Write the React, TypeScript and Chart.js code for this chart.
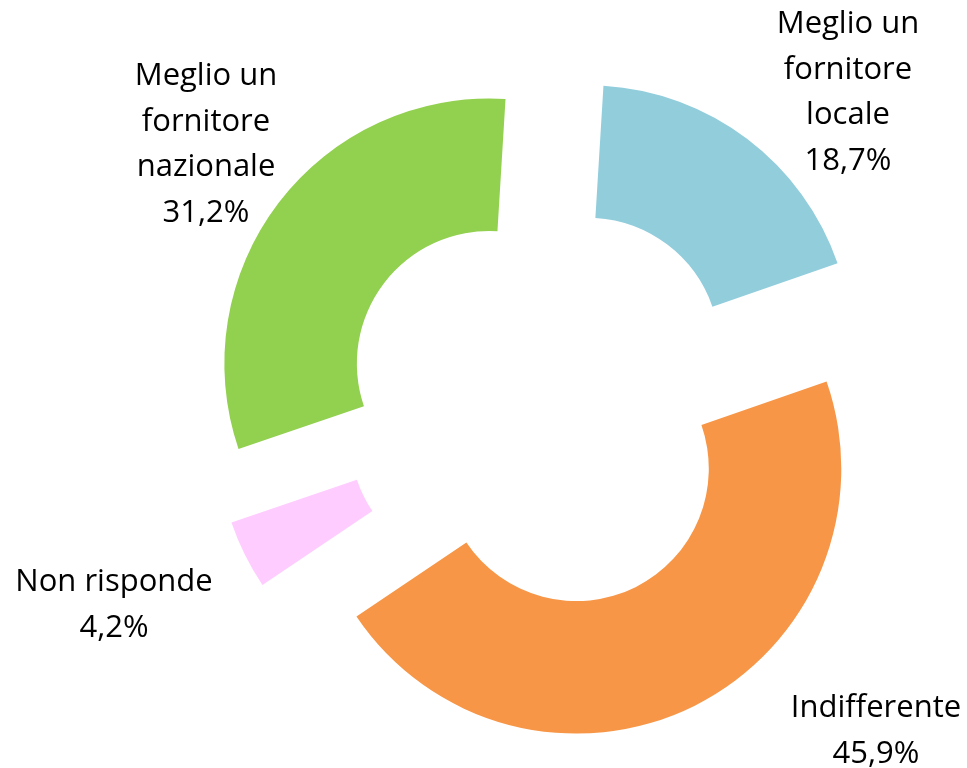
import React, { useEffect, useRef } from "react";
import { Chart, registerables } from "chart.js";

Chart.register(...registerables);

// ---- data ----
const categories: string[][] = [
  ["Meglio un", "fornitore", "locale"],
  ["Indifferente"],
  ["Non risponde"],
  ["Meglio un", "fornitore", "nazionale"],
];
const values: number[] = [18.7, 45.9, 4.2, 31.2];
const colors: string[] = ["#92CDDC", "#F79646", "#FFCCFF", "#92D050"];

// ---- layout constants (not data) ----
const EXPLODE = 70; // px each slice is pulled out along its mid-angle
const OUTER_RADIUS = 265;
const FONT = "31px 'Open Sans', Lato, sans-serif";
const LINE_HEIGHT = 45.7;
const CAP_HEIGHT = 21;
// label block centres, relative to the doughnut centre
const labelAnchors: [number, number][] = [
  [303, -315],
  [331, 323.5],
  [-431, 197.5],
  [-339, -263],
];

const fmt = (v: number) => v.toFixed(1).replace(".", ",") + "%";

const explodePlugin = {
  id: "explode",
  beforeDatasetDraw(chart: any, args: any) {
    const ctx = chart.ctx;
    args.meta.data.forEach((arc: any) => {
      const { startAngle, endAngle } = arc.getProps(["startAngle", "endAngle"], true);
      const mid = (startAngle + endAngle) / 2;
      ctx.save();
      ctx.translate(Math.cos(mid) * EXPLODE, Math.sin(mid) * EXPLODE);
      arc.draw(ctx);
      ctx.restore();
    });
    return false;
  },
};

const labelPlugin = {
  id: "sliceLabels",
  afterDatasetsDraw(chart: any) {
    const ctx = chart.ctx;
    const meta = chart.getDatasetMeta(0);
    const ds = chart.data.datasets[0];
    meta.data.forEach((arc: any, i: number) => {
      const { x, y } = arc.getProps(["x", "y"], true);
      const lines = [...(chart.data.labels[i] as string[]), fmt(ds.data[i])];
      const [dx, dy] = labelAnchors[i];
      const cx = x + dx;
      const cy = y + dy;
      ctx.save();
      ctx.font = FONT;
      ctx.fillStyle = "#000000";
      ctx.textAlign = "center";
      ctx.textBaseline = "alphabetic";
      const n = lines.length;
      lines.forEach((t: string, j: number) => {
        const by = cy + CAP_HEIGHT / 2 + (j - (n - 1) / 2) * LINE_HEIGHT;
        ctx.fillText(t, cx, by);
      });
      ctx.restore();
    });
  },
};

export default function App() {
  const ref = useRef<HTMLCanvasElement | null>(null);
  useEffect(() => {
    if (!ref.current) return;
    const chart = new Chart(ref.current, {
      type: "doughnut",
      data: {
        labels: categories,
        datasets: [
          {
            data: values,
            backgroundColor: colors,
            borderWidth: 0,
            offset: 0,
          },
        ],
      },
      options: {
        animation: false,
        responsive: true,
        maintainAspectRatio: false,
        rotation: 3.5,
        cutout: "50%",
        radius: OUTER_RADIUS,
        layout: { padding: { left: 123, top: 44, right: 0, bottom: 0 } },
        plugins: {
          legend: { display: false },
          tooltip: { enabled: false },
        },
      },
      plugins: [explodePlugin, labelPlugin],
    });
    return () => chart.destroy();
  }, []);
  return (
    <div
      style={{
        position: "fixed",
        left: 0,
        top: 0,
        width: 967,
        height: 768,
        background: "#ffffff",
      }}
    >
      <canvas ref={ref} />
    </div>
  );
}
